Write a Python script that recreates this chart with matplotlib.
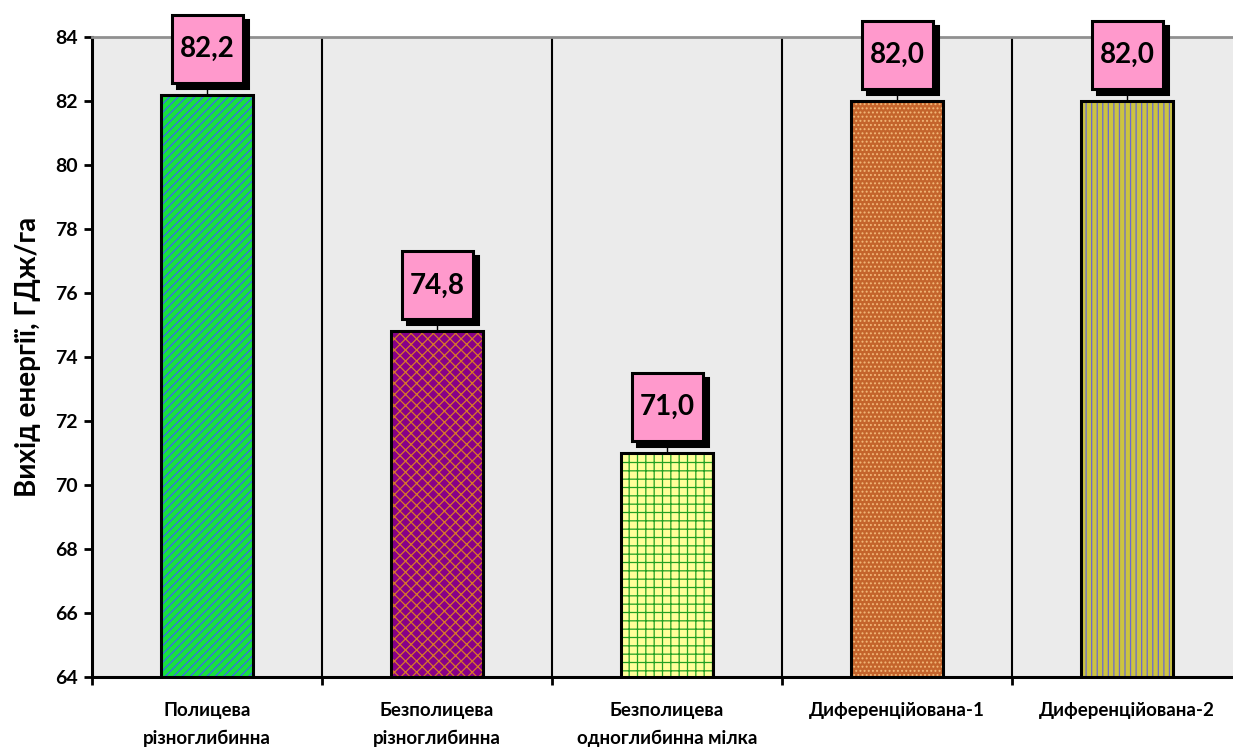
import matplotlib
matplotlib.use("Agg")
import matplotlib.pyplot as plt
import matplotlib.transforms as mtransforms
from matplotlib.patches import Rectangle

plt.rcParams['font.family'] = ['Lato', 'DejaVu Sans']
plt.rcParams['font.weight'] = 'bold'
plt.rcParams['hatch.linewidth'] = 0.9

categories = ["Полицева\nрізноглибинна", "Безполицева\nрізноглибинна",
              "Безполицева\nодноглибинна мілка", "Диференційована-1",
              "Диференційована-2"]
values = [82.2, 74.8, 71.0, 82.0, 82.0]
labels = ["82,2", "74,8", "71,0", "82,0", "82,0"]

face_colors = ['#18E040', '#880088', '#FFFF99', '#C4642C', '#CCC440']
hatch_colors = ['#3A68F0', '#D87828', '#22A022', '#F2B878', '#6A6AD0']
hatches = ['////', 'xxx', '++', '....', '|||']

fig = plt.figure(figsize=(12.33, 7.47), dpi=100)
ax = fig.add_axes([92 / 1233, 1 - 677 / 747, 1150 / 1233, 640 / 747])
ax.set_facecolor('#EBEBEB')

x = [i + 0.5 for i in range(len(values))]
base = 64
heights = [v - base for v in values]

for xi, h, fc, hc, hp in zip(x, heights, face_colors, hatch_colors, hatches):
    ax.bar(xi, h, bottom=base, width=0.4, color=fc, edgecolor=hc,
           hatch=hp, linewidth=0, zorder=3)
ax.bar(x, heights, bottom=base, width=0.4, fill=False, edgecolor='black',
       linewidth=2.2, zorder=4)

# value boxes: pink square with black border, drop shadow and leader line
box_w, box_h, lift, shadow = 71, 68, 46, 5
for xi, v, lab in zip(x, values, labels):
    at_point = mtransforms.IdentityTransform() + \
        mtransforms.ScaledTranslation(xi, v, ax.transData)
    ax.plot([0, 0], [0, lift - box_h / 2], color='black', lw=1,
            transform=at_point, clip_on=False, zorder=5)
    ax.add_patch(Rectangle((-box_w / 2 + shadow, lift - box_h / 2 - shadow),
                           box_w, box_h, fc='black', ec='black', lw=2.2,
                           transform=at_point, clip_on=False, zorder=6))
    ax.add_patch(Rectangle((-box_w / 2, lift - box_h / 2), box_w, box_h,
                           fc='#FF99CC', ec='black', lw=2.2,
                           transform=at_point, clip_on=False, zorder=7))
    ax.text(0, lift, lab, ha='center', va='center', fontsize=20,
            fontweight='bold', transform=at_point, zorder=8)

ax.set_xlim(0, 5)
ax.set_ylim(64, 84)
ax.set_yticks(range(64, 85, 2))
ax.set_xticks(range(0, 6))
ax.set_xticklabels([])
ax.set_xticks(x, minor=True)
ax.set_xticklabels(categories, minor=True, fontsize=13.5, fontweight='bold',
                   linespacing=1.75)
ax.tick_params(axis='x', which='minor', length=0, pad=18)
ax.tick_params(axis='x', which='major', length=6, width=2, direction='out')
ax.tick_params(axis='y', length=6, width=2, direction='out', labelsize=14, pad=4)
for lbl in ax.get_yticklabels():
    lbl.set_fontweight('bold')

ax.grid(axis='x', which='major', color='black', linewidth=1.5, zorder=1)
ax.set_axisbelow(True)

ax.spines['left'].set_linewidth(2.2)
ax.spines['bottom'].set_linewidth(2.2)
ax.spines['top'].set_color('#909090')
ax.spines['top'].set_linewidth(2)
ax.spines['right'].set_visible(False)

ax.set_ylabel('Вихід енергії, ГДж/га', fontsize=20, fontweight='bold', labelpad=10)

fig.savefig('out.png', dpi=100)
